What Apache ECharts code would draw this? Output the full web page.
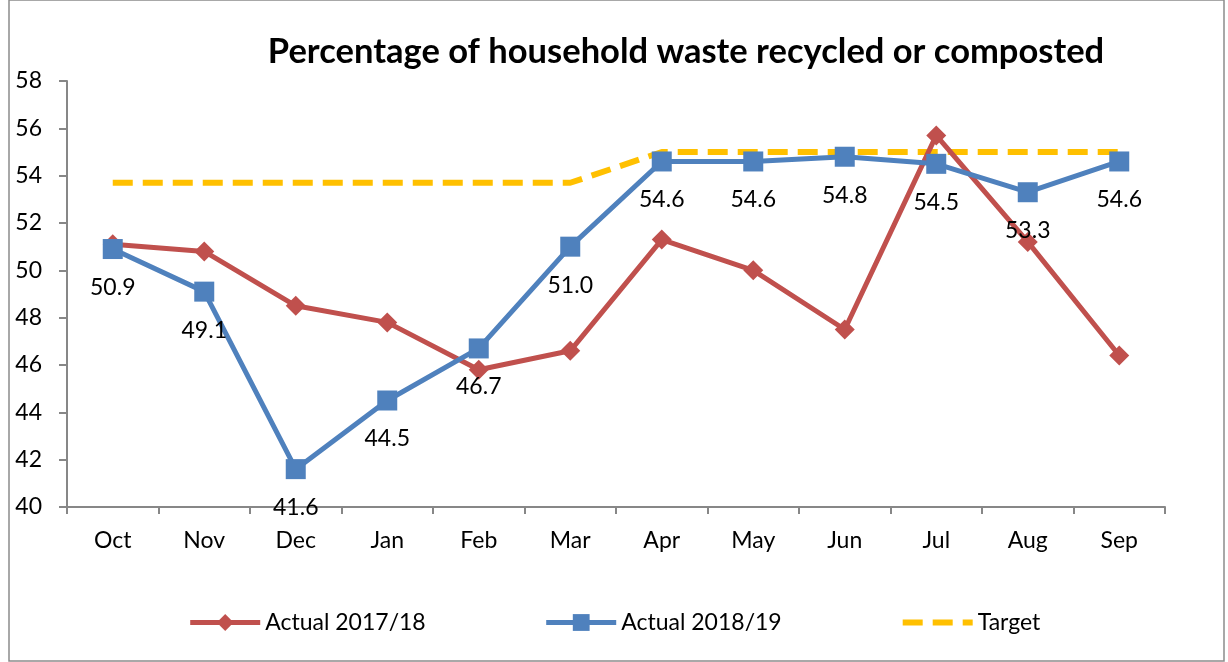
<!DOCTYPE html>
<html>
<head>
<meta charset="utf-8">
<script src="https://cdn.jsdelivr.net/npm/echarts@6/dist/echarts.min.js"></script>
<style>
  html, body { margin: 0; padding: 0; background: #fff; }
  #chart { width: 1228px; height: 662px; }
</style>
</head>
<body>
<div id="chart"></div>
<script>
// months on the x axis
var months = ['Oct', 'Nov', 'Dec', 'Jan', 'Feb', 'Mar', 'Apr', 'May', 'Jun', 'Jul', 'Aug', 'Sep'];
// values
var actual1718 = [51.1, 50.8, 48.5, 47.8, 45.8, 46.6, 51.3, 50.0, 47.5, 55.7, 51.2, 46.4];
var actual1819 = [50.9, 49.1, 41.6, 44.5, 46.7, 51.0, 54.6, 54.6, 54.8, 54.5, 53.3, 54.6];
var target = [53.7, 53.7, 53.7, 53.7, 53.7, 53.7, 55.0, 55.0, 55.0, 55.0, 55.0, 55.0];
var yTicks = [40, 42, 44, 46, 48, 50, 52, 54, 56, 58];

var FONT = 'Lato, "Liberation Sans", sans-serif';

var myChart = echarts.init(document.getElementById('chart'));

var option = {
    animation: false,
    textStyle: { fontFamily: FONT, color: '#000' },
    graphic: [
        {
            // outer frame of the chart
            type: 'rect',
            shape: { x: 9, y: 0, width: 1215, height: 661 },
            style: { fill: 'none', stroke: '#8c8c8c', lineWidth: 1.5 },
            silent: true
        }
    ],
    title: {
        text: 'Percentage of household waste recycled or composted',
        left: 681,
        top: 29,
        textAlign: 'center',
        textStyle: { fontFamily: FONT, fontSize: 34.5, fontWeight: 'bold', color: '#000' }
    },
    legend: {
        bottom: 23,
        left: 'center',
        itemWidth: 70,
        itemHeight: 21,
        itemGap: 118,
        lineStyle: { width: 'inherit' },
        textStyle: { fontFamily: FONT, fontSize: 23, color: '#000' },
        data: [
            { name: 'Actual 2017/18' },
            { name: 'Actual 2018/19' },
            { name: 'Target', itemStyle: { opacity: 0 } }
        ]
    },
    grid: {
        left: 67,
        right: 63,
        top: 81,
        bottom: 155,
        containLabel: false
    },
    xAxis: {
        type: 'category',
        data: months,
        boundaryGap: true,
        axisLine: { lineStyle: { color: '#878787', width: 2 } },
        axisTick: { show: true, length: 7, lineStyle: { color: '#878787', width: 2 } },
        axisLabel: { fontFamily: FONT, fontSize: 23, color: '#000', margin: 22 },
        splitLine: { show: false }
    },
    yAxis: {
        type: 'value',
        min: yTicks[0],
        max: yTicks[yTicks.length - 1],
        interval: 2,
        axisLine: { show: true, lineStyle: { color: '#878787', width: 2 } },
        axisTick: { show: true, length: 8, lineStyle: { color: '#878787', width: 2 } },
        axisLabel: { fontFamily: FONT, fontSize: 23, color: '#000', margin: 25 },
        splitLine: { show: false }
    },
    series: [
        {
            name: 'Actual 2017/18',
            type: 'line',
            data: actual1718,
            color: '#C0504D',
            symbol: 'diamond',
            symbolSize: 20,
            lineStyle: { width: 5, color: '#C0504D' },
            itemStyle: { color: '#C0504D' },
            z: 3
        },
        {
            name: 'Actual 2018/19',
            type: 'line',
            data: actual1819,
            color: '#4F81BD',
            symbol: 'rect',
            symbolSize: 20,
            lineStyle: { width: 5, color: '#4F81BD' },
            itemStyle: { color: '#4F81BD' },
            label: {
                show: true,
                position: 'bottom',
                distance: 17,
                fontFamily: FONT,
                fontSize: 23,
                color: '#000',
                formatter: function(p) { return p.value.toFixed(1); }
            },
            z: 4
        },
        {
            name: 'Target',
            type: 'line',
            data: target,
            color: '#FFC000',
            symbol: 'none',
            lineStyle: { width: 6, color: '#FFC000', type: [20, 10] },
            z: 2
        }
    ]
};

myChart.setOption(option);
</script>
</body>
</html>
